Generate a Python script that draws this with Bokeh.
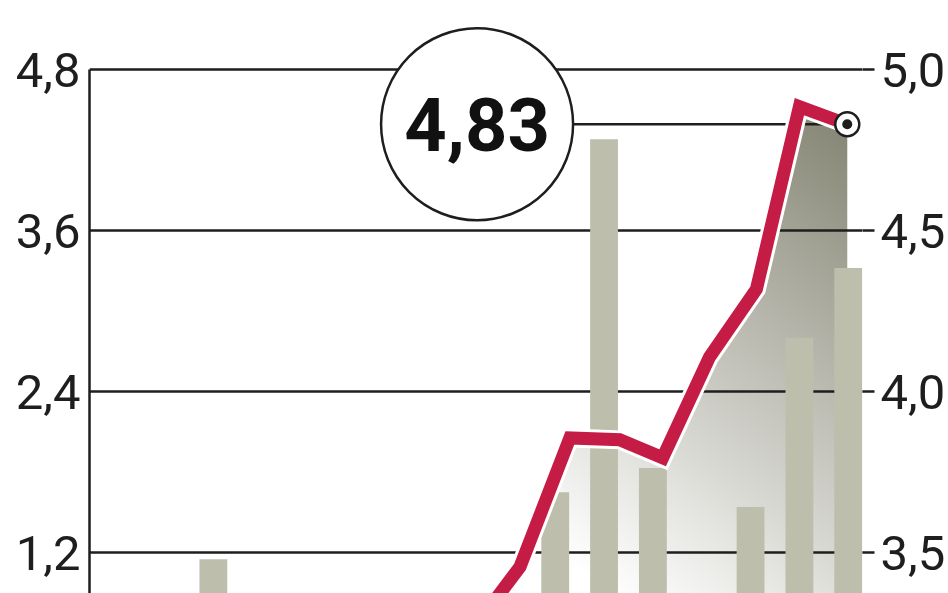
import numpy as np
from bokeh.plotting import figure
from bokeh.models import Range1d, LinearAxis, FixedTicker, CustomJSTickFormatter
from bokeh.embed import file_html
from bokeh.resources import INLINE
from bokeh.core.properties import value

# ---------------- data ----------------
sessions = list(range(16))                       # session index
volume = [0.30, 0.50, 1.15, 0.40, 0.20, 0.60, 0.30, 0.50,
          0.70, 1.65, 4.28, 1.83, 0.60, 1.54, 2.80, 3.32]   # Wolumen obrotu (tys. szt.)
price_pos = [0.0, 1.0, 2.0, 3.0, 4.0, 5.0, 6.2, 7.26,
             8.28, 9.30, 10.32, 11.20, 12.16, 13.12, 14.0, 14.98]
price = [3.28, 3.30, 3.27, 3.29, 3.26, 3.30, 3.28, 3.25,
         3.456, 3.856, 3.85, 3.794, 4.107, 4.318, 4.885, 4.83]  # Kurs (zł)
volume_ticks = [1.2, 2.4, 3.6, 4.8]
price_ticks = [3.5, 4.0, 4.5, 5.0]

# ---------------- styling / layout ----------------
INK = "#1e1e1e"
BAR = "#bebeac"
RED = "#c41c45"
FONT = "Roboto"
VOL_RANGE = (0.8946, 5.3143)


def vol_to_price(v):
    return 3.5 + (v - 1.2) * 0.5 / 1.2


PRICE_RANGE = (vol_to_price(VOL_RANGE[0]), vol_to_price(VOL_RANGE[1]))
callout_x = 7.4

p = figure(width=948, height=593, output_backend="svg", toolbar_location=None,
           x_range=Range1d(-0.536, 15.292), y_range=Range1d(*VOL_RANGE),
           x_axis_location=None, y_axis_location="left",
           min_border_left=89, min_border_right=85, min_border_top=0, min_border_bottom=0)
p.extra_y_ranges = {"price": Range1d(*PRICE_RANGE)}
p.outline_line_color = None
p.background_fill_color = "white"
p.border_fill_color = "white"

# gradient area under the price line
gx0, gx1 = 7.0, price_pos[-1]
gy0, gy1 = PRICE_RANGE[0] - 0.02, 4.95
W, H = 320, 320
X, Y = np.meshgrid(np.linspace(gx0, gx1, W), np.linspace(gy0, gy1, H))
u = (X - 8.0) / 7.0
w = (Y - 3.4) / 1.5
t = np.clip(0.39 * u + 0.73 * w - 0.107, 0, 1)
dark = np.array([132, 132, 115]); light = np.array([255, 255, 255])
img = np.empty((H, W), dtype=np.uint32)
view = img.view(dtype=np.uint8).reshape((H, W, 4))
for c in range(3):
    view[:, :, c] = (light[c] + (dark[c] - light[c]) * t).astype(np.uint8)
view[:, :, 3] = 255
r_img = p.image_rgba(image=[img], x=gx0, y=gy0, dw=gx1 - gx0, dh=gy1 - gy0, y_range_name="price")
r_img.level = "image"

# white mask above the line (keeps the area only below the price line)
last = price[-1]
mleft = gx0 - 0.3
mright = gx1 + 0.3
mx = [mleft, mleft] + [x for x in price_pos if x > mleft] + [mright, mright]
my = [gy1 + 0.1, float(np.interp(mleft, price_pos, price))] + \
     [y for x, y in zip(price_pos, price) if x > mleft] + [last, gy1 + 0.1]
r_mask = p.patch(mx, my, fill_color="white", line_color=None, y_range_name="price")
r_mask.level = "image"

# grid
p.xgrid.visible = False
p.ygrid.ticker = FixedTicker(ticks=volume_ticks)
p.ygrid.grid_line_color = INK
p.ygrid.grid_line_width = 2.5

# volume bars
p.vbar(x=sessions, top=volume, bottom=0, width=0.57, fill_color=BAR, line_color=None)

# leader from callout to last price
p.segment(x0=[callout_x], y0=[last], x1=[price_pos[-1]], y1=[last],
          line_color=INK, line_width=2.5, y_range_name="price")

# price line with white outline
p.line(price_pos, price, line_color="white", line_width=19, line_join="miter", y_range_name="price")
p.line(price_pos, price, line_color=RED, line_width=13, line_join="miter", y_range_name="price")

# end marker
p.scatter([price_pos[-1]], [last], marker="circle", size=24, fill_color="white",
          line_color=INK, line_width=2.5, y_range_name="price")
p.scatter([price_pos[-1]], [last], marker="circle", size=10, fill_color=INK,
          line_color=None, y_range_name="price")

# callout circle
p.scatter([callout_x], [last], marker="circle", size=192, fill_color="white",
          line_color=INK, line_width=2.5, y_range_name="price")
p.text(x=[callout_x], y=[last], text=[f"{last:.2f}".replace(".", ",")],
       text_font=value(FONT), text_font_style="bold", text_font_size="74px",
       text_color="#111111", text_align="center", text_baseline="middle",
       y_range_name="price")

# axes
ax = p.yaxis[0]
ax.ticker = FixedTicker(ticks=volume_ticks)
ax.formatter = CustomJSTickFormatter(code="return tick.toFixed(1).replace('.', ',');")
ax.bounds = (0, 4.8)
ax.axis_line_color = INK
ax.axis_line_width = 2.5
ax.major_tick_out = 0
ax.major_tick_in = 0
ax.minor_tick_line_color = None
ax.major_label_standoff = 9
ax.major_label_text_font = FONT
ax.major_label_text_font_size = "49px"
ax.major_label_text_color = INK

ay = LinearAxis(y_range_name="price", ticker=FixedTicker(ticks=price_ticks),
                formatter=CustomJSTickFormatter(code="return tick.toFixed(1).replace('.', ',');"))
ay.axis_line_color = None
ay.major_tick_out = 12
ay.major_tick_in = 0
ay.major_tick_line_color = INK
ay.major_tick_line_width = 2.5
ay.minor_tick_line_color = None
ay.major_label_standoff = 6
ay.major_label_text_font = FONT
ay.major_label_text_font_size = "49px"
ay.major_label_text_color = INK
p.add_layout(ay, "right")

open("out.html", "w").write(file_html(p, INLINE))
